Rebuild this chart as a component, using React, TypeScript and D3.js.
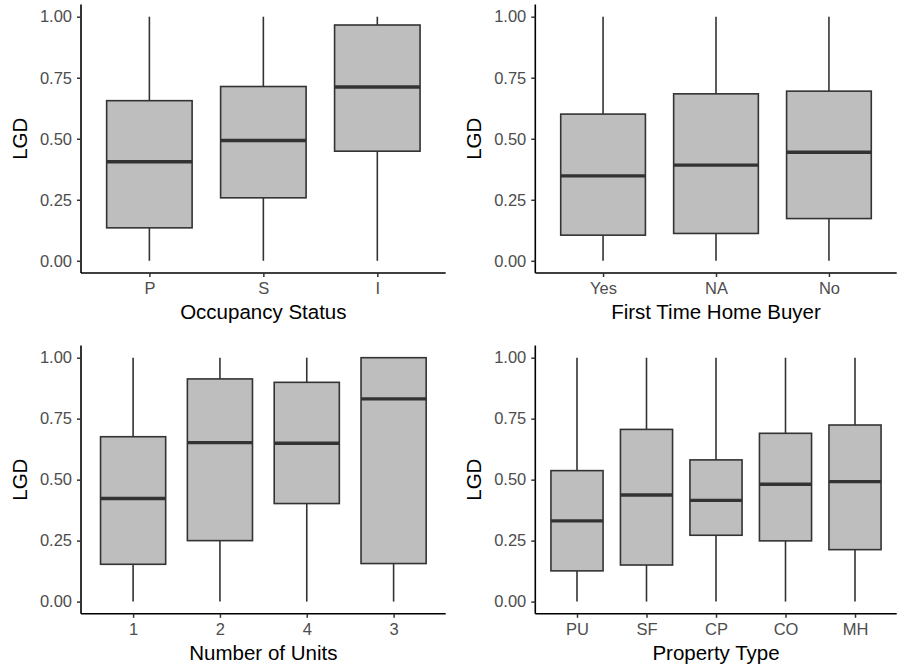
import React, { useEffect, useRef } from 'react';
import * as d3 from 'd3';

// box stats: [lower whisker, Q1, median, Q3, upper whisker]
const occupancyCats = ['P', 'S', 'I'];
const occupancyStats = [
  [0, 0.135, 0.406, 0.656, 1],
  [0, 0.258, 0.493, 0.714, 1],
  [0, 0.449, 0.712, 0.966, 1],
];

const buyerCats = ['Yes', 'NA', 'No'];
const buyerStats = [
  [0, 0.105, 0.348, 0.601, 1],
  [0, 0.112, 0.392, 0.684, 1],
  [0, 0.173, 0.445, 0.695, 1],
];

const unitsCats = ['1', '2', '4', '3'];
const unitsStats = [
  [0, 0.153, 0.423, 0.676, 1],
  [0, 0.25, 0.652, 0.913, 1],
  [0, 0.402, 0.649, 0.899, 1],
  [0, 0.156, 0.831, 1, 1],
];

const propertyCats = ['PU', 'SF', 'CP', 'CO', 'MH'];
const propertyStats = [
  [0, 0.126, 0.331, 0.537, 1],
  [0, 0.15, 0.437, 0.706, 1],
  [0, 0.272, 0.415, 0.581, 1],
  [0, 0.249, 0.481, 0.69, 1],
  [0, 0.213, 0.492, 0.724, 1],
];

const yTicks = [0, 0.25, 0.5, 0.75, 1];

const panels = [
  { cats: occupancyCats, stats: occupancyStats, title: 'Occupancy Status', x0: 81, x1: 445.7, y0: 4.5, y1: 273 },
  { cats: buyerCats, stats: buyerStats, title: 'First Time Home Buyer', x0: 535.3, x1: 896.7, y0: 4.5, y1: 273 },
  { cats: unitsCats, stats: unitsStats, title: 'Number of Units', x0: 81, x1: 445.7, y0: 345.5, y1: 613.8 },
  { cats: propertyCats, stats: propertyStats, title: 'Property Type', x0: 535.3, x1: 896.7, y0: 345.5, y1: 613.8 },
];

const FONT = '"Liberation Sans", Arial, sans-serif';

export default function App() {
  const ref = useRef<SVGSVGElement>(null);

  useEffect(() => {
    const svg = d3.select(ref.current);
    svg.selectAll('*').remove();

    panels.forEach((p) => {
      const g = svg.append('g');

      const x = d3.scalePoint<string>()
        .domain(p.cats)
        .range([p.x0, p.x1])
        .padding(0.6);
      const y = d3.scaleLinear()
        .domain([-0.05, 1.05])
        .range([p.y1, p.y0]);
      const bw = x.step() * 0.75;

      // boxes
      p.cats.forEach((c, i) => {
        const [lo, q1, med, q3, hi] = p.stats[i];
        const cx = x(c) as number;
        g.append('line')
          .attr('x1', cx).attr('x2', cx)
          .attr('y1', y(hi)).attr('y2', y(q3))
          .attr('stroke', '#333333').attr('stroke-width', 1.6);
        g.append('line')
          .attr('x1', cx).attr('x2', cx)
          .attr('y1', y(q1)).attr('y2', y(lo))
          .attr('stroke', '#333333').attr('stroke-width', 1.6);
        g.append('rect')
          .attr('x', cx - bw / 2)
          .attr('y', y(q3))
          .attr('width', bw)
          .attr('height', y(q1) - y(q3))
          .attr('fill', '#BEBEBE')
          .attr('stroke', '#333333')
          .attr('stroke-width', 1.6);
        g.append('line')
          .attr('x1', cx - bw / 2).attr('x2', cx + bw / 2)
          .attr('y1', y(med)).attr('y2', y(med))
          .attr('stroke', '#333333').attr('stroke-width', 3.4);
      });

      // y axis
      const yAxis = g.append('g')
        .attr('transform', `translate(${p.x0},0)`)
        .call(d3.axisLeft(y).tickValues(yTicks).tickFormat(d3.format('.2f')).tickSize(4).tickPadding(5));
      yAxis.select('.domain').attr('stroke', '#000').attr('stroke-width', 1.6)
        .attr('d', `M0,${p.y0}V${p.y1}`);
      yAxis.selectAll('.tick line').attr('stroke', '#333333').attr('stroke-width', 1.5);
      yAxis.selectAll('.tick text')
        .attr('fill', '#4D4D4D')
        .style('font-family', FONT)
        .style('font-size', '16.5px');

      // x axis
      const xAxis = g.append('g')
        .attr('transform', `translate(0,${p.y1})`)
        .call(d3.axisBottom(x).tickSize(4).tickPadding(5));
      xAxis.select('.domain').attr('stroke', '#000').attr('stroke-width', 1.6)
        .attr('d', `M${p.x0},0H${p.x1}`);
      xAxis.selectAll('.tick line').attr('stroke', '#333333').attr('stroke-width', 1.5);
      xAxis.selectAll('.tick text')
        .attr('fill', '#4D4D4D')
        .style('font-family', FONT)
        .style('font-size', '16.5px');

      // titles
      g.append('text')
        .attr('x', (p.x0 + p.x1) / 2)
        .attr('y', p.y1 + 46)
        .attr('text-anchor', 'middle')
        .style('font-family', FONT)
        .style('font-size', '20.5px')
        .attr('fill', '#000')
        .text(p.title);
      g.append('text')
        .attr('transform', `translate(${p.x0 - 54},${(p.y0 + p.y1) / 2}) rotate(-90)`)
        .attr('text-anchor', 'middle')
        .style('font-family', FONT)
        .style('font-size', '20.5px')
        .attr('fill', '#000')
        .text('LGD');
    });
  }, []);

  return (
    <svg
      ref={ref}
      width={897}
      height={671}
      style={{ position: 'absolute', left: 0, top: 0, background: '#fff' }}
    />
  );
}
